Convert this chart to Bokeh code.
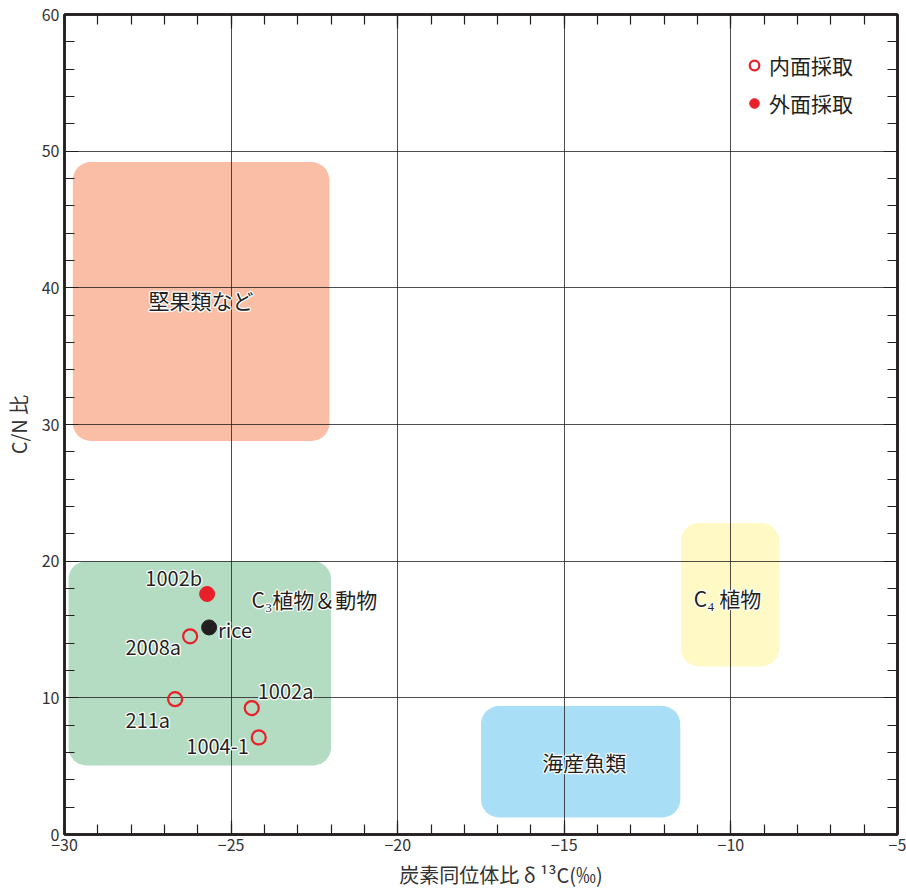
from bokeh.plotting import figure
from bokeh.models import (LinearAxis, FixedTicker, Legend, LegendItem, ColumnDataSource, Range1d,
                          CustomLabelingPolicy)
from bokeh.core.properties import value
from bokeh.embed import file_html
from bokeh.resources import INLINE

# ---- data ----
region_names = ["堅果類など", "C₃植物＆動物", "C₄ 植物", "海産魚類"]
region_x0 = [-29.75, -29.88, -11.5, -17.5]
region_x1 = [-22.05, -22.0, -8.55, -11.52]
region_y0 = [28.8, 5.05, 12.3, 1.25]
region_y1 = [49.2, 20.0, 22.8, 9.4]
region_colors = ["#F9BEA5", "#B3DCC3", "#FFF9C6", "#A9DEF7"]
region_label_x = [-25.9, -22.5, -10.1, -14.4]
region_label_y = [39.1, 17.2, 17.3, 5.3]

inner_names = ["2008a", "211a", "1002a", "1004-1"]
inner_d13c = [-26.23, -26.68, -24.38, -24.17]
inner_cn = [14.5, 9.9, 9.25, 7.1]

outer_names = ["1002b"]
outer_d13c = [-25.72]
outer_cn = [17.6]

ref_names = ["rice"]
ref_d13c = [-25.66]
ref_cn = [15.15]

x_major = [-30, -25, -20, -15, -10, -5]
y_major = [0, 10, 20, 30, 40, 50, 60]
x_minor = list(range(-30, -4))
y_minor = list(range(0, 61, 2))

FONT = "Noto Sans CJK JP"
TXT = "#231F20"
RED = "#E8202A"

p = figure(frame_width=833, frame_height=820, x_range=Range1d(-30, -5), y_range=Range1d(0, 60),
           output_backend="svg", toolbar_location=None,
           min_border_left=50, min_border_right=9, min_border_top=14, min_border_bottom=40)
p.outline_line_color = "#231F20"
p.outline_line_width = 2.5

for ax in (p.xaxis[0], p.yaxis[0]):
    ax.major_tick_out = 0
    ax.major_tick_in = 14
    ax.minor_tick_out = 0
    ax.minor_tick_in = 10
    ax.axis_line_width = 2.5
    ax.axis_line_color = "#231F20"
    ax.major_tick_line_color = "#231F20"
    ax.minor_tick_line_color = "#231F20"
    ax.major_tick_line_width = 1.2
    ax.minor_tick_line_width = 1.2
    ax.major_label_text_font = FONT
    ax.major_label_text_font_size = "16px"
    ax.major_label_text_color = "#333333"
    ax.axis_label_text_font = FONT
    ax.axis_label_text_font_size = "20px"
    ax.axis_label_text_font_style = "normal"
    ax.axis_label_text_color = "#333333"

p.xaxis[0].ticker = FixedTicker(ticks=x_major, minor_ticks=x_minor)
p.yaxis[0].ticker = FixedTicker(ticks=y_major, minor_ticks=y_minor)
p.xaxis[0].major_label_standoff = 4
p.yaxis[0].major_label_standoff = 5
p.xaxis[0].axis_label = "\u3000\u3000炭素同位体比 δ ¹³C(‰)"
p.yaxis[0].axis_label = "C/N 比"
p.xaxis[0].axis_label_standoff = 6
p.yaxis[0].axis_label_standoff = 6

# mirror axes (right / top) with inward ticks, no labels
no_labels = CustomLabelingPolicy(code="return new Set()")
rax = LinearAxis(ticker=FixedTicker(ticks=y_major, minor_ticks=y_minor))
tax = LinearAxis(ticker=FixedTicker(ticks=x_major, minor_ticks=x_minor))
for ax in (rax, tax):
    ax.major_tick_out = 0
    ax.major_tick_in = 14
    ax.minor_tick_out = 0
    ax.minor_tick_in = 10
    ax.axis_line_width = 2.5
    ax.axis_line_color = "#231F20"
    ax.major_tick_line_color = "#231F20"
    ax.minor_tick_line_color = "#231F20"
    ax.major_tick_line_width = 1.2
    ax.minor_tick_line_width = 1.2
    ax.major_label_policy = no_labels
    ax.major_label_standoff = 0
p.add_layout(rax, "right")
p.add_layout(tax, "above")

# grid
p.xgrid.ticker = FixedTicker(ticks=x_major)
p.ygrid.ticker = FixedTicker(ticks=y_major)
for g in (p.xgrid[0], p.ygrid[0]):
    g.grid_line_color = "#231F20"
    g.grid_line_alpha = 0.8
    g.grid_line_width = 1

# regions
rsrc = ColumnDataSource(dict(left=region_x0, right=region_x1, bottom=region_y0, top=region_y1,
                             color=region_colors, name=region_names,
                             lx=region_label_x, ly=region_label_y))
p.quad(left="left", right="right", bottom="bottom", top="top", source=rsrc,
       fill_color="color", line_color=None, border_radius=18, level="image")

# halo layer then text layer
p.text(x="lx", y="ly", text="name", source=rsrc, text_font=value(FONT),
       text_font_size="21px", text_color="white", text_align="center", text_baseline="middle",
       text_outline_color="white", level="annotation")
p.text(x="lx", y="ly", text="name", source=rsrc, text_font=value(FONT),
       text_font_size="21px", text_color=TXT, text_align="center", text_baseline="middle",
       level="annotation")

# points
inner = p.scatter(inner_d13c, inner_cn, size=14, marker="circle", fill_alpha=0,
                  line_color=RED, line_width=2.2)
outer = p.scatter(outer_d13c, outer_cn, size=15, marker="circle", fill_color=RED,
                  line_color=RED)
p.scatter(ref_d13c, ref_cn, size=15, marker="circle", fill_color=TXT, line_color=TXT)

# point labels
lab_names = inner_names + outer_names + ref_names
lab_x = inner_d13c + outer_d13c + ref_d13c
lab_y = inner_cn + outer_cn + ref_cn
lab_align = ["right", "right", "left", "right", "right", "left"]
lab_dx = [-9, -5, 6, -10, -5, 9]
lab_dy = [10, 20, -18, 9, -16, 2]
lsrc = ColumnDataSource(dict(x=lab_x, y=lab_y, t=lab_names, a=lab_align, dx=lab_dx, dy=lab_dy))
p.text(x="x", y="y", text="t", source=lsrc, text_align="a", x_offset="dx", y_offset="dy",
       text_font=value(FONT), text_font_size="20px", text_color="white", text_baseline="middle",
       text_outline_color="white", level="annotation")
p.text(x="x", y="y", text="t", source=lsrc, text_align="a", x_offset="dx", y_offset="dy",
       text_font=value(FONT), text_font_size="20px", text_color=TXT, text_baseline="middle",
       level="annotation")

legend = Legend(items=[LegendItem(label="内面採取", renderers=[inner]),
                       LegendItem(label="外面採取", renderers=[outer])],
                location=(678, 716), border_line_color=None, background_fill_alpha=0,
                padding=0, margin=0, spacing=8, glyph_height=26, glyph_width=24,
                label_standoff=3, label_text_font=FONT, label_text_font_size="21px",
                label_text_color=TXT)
p.add_layout(legend)

open("out.html", "w").write(file_html(p, INLINE))
